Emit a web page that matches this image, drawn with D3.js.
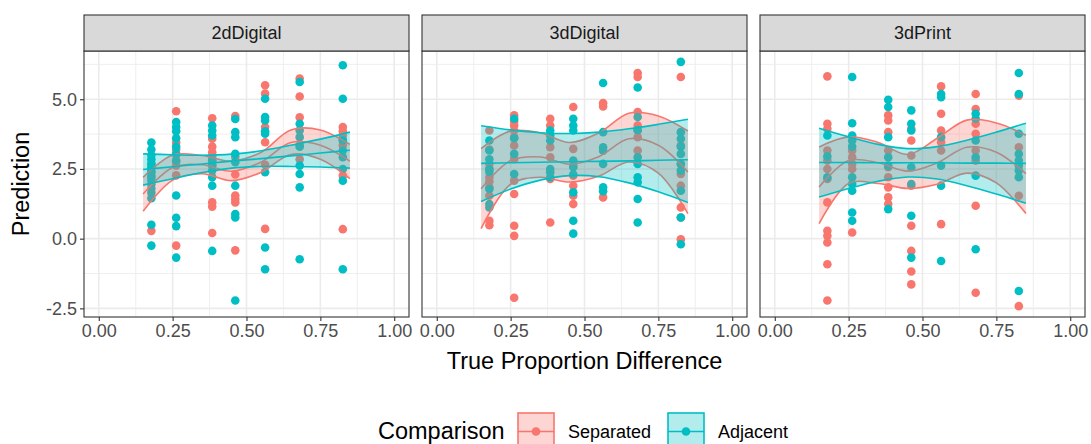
<!DOCTYPE html>
<html><head><meta charset="utf-8">
<script src="https://cdn.jsdelivr.net/npm/d3@7"></script>
<style>body{margin:0;background:#fff} text{font-family:"Liberation Sans",Arial,sans-serif}</style>
</head><body><svg id="chart" width="1091" height="444"></svg>
<script>
// ---------- data ----------
const panels = ["2dDigital", "3dDigital", "3dPrint"];
const groups = ["Separated", "Adjacent"];
const groupColors = ["#F8766D", "#00BFC4"];
const xLevels = [0.178, 0.262, 0.384, 0.462, 0.563, 0.68, 0.826];
const xTicks = [0, 0.25, 0.5, 0.75, 1];
const xTickLabels = ["0.00", "0.25", "0.50", "0.75", "1.00"];
const yTicks = [-2.5, 0, 2.5, 5];
const yTickLabels = ["-2.5", "0.0", "2.5", "5.0"];

// points: one list of predictions per x level
const sep2dDigital = [
  [2.65, 2.4, 2.2, 0.28],
  [4.57, 3.45, 3.2, 3.0, 2.75, 2.62, 2.27, -0.25],
  [4.32, 3.58, 3.3, 3.1, 2.95, 2.8, 2.65, 1.3, 1.15, 0.2],
  [4.4, 2.93, 2.3, 1.55, 1.42, 1.3, -0.42],
  [5.5, 5.2, 4.0, 3.46, 2.65, 0.35],
  [5.74, 5.1, 4.35, 3.35, 2.85],
  [4.0, 3.85, 3.7, 3.55, 3.35, 2.26, 0.34]
];
const adj2dDigital = [
  [3.45, 3.2, 3.0, 2.85, 2.7, 2.55, 2.4, 2.25, 2.1, 1.95, 1.8, 1.65, 1.45, 0.5, -0.25],
  [4.18, 4.0, 3.85, 3.6, 3.3, 3.05, 2.8, 1.55, 0.75, 0.45, -0.68],
  [4.06, 3.88, 3.7, 2.8, 2.62, 2.44, 2.2, 1.9, -0.44],
  [4.29, 3.82, 3.64, 3.04, 2.74, 1.9, 0.88, 0.76, -2.22],
  [5.02, 4.36, 4.24, 3.85, 3.76, 2.38, -0.32, -1.1],
  [5.62, 4.12, 3.88, 3.64, 3.3, 2.62, 2.32, 1.84, -0.74],
  [6.22, 5.02, 3.52, 3.16, 2.92, 2.5, 2.08, -1.1]
];
const sep3dDigital = [
  [3.88, 3.2, 2.68, 2.5, 2.2, 2.05, 1.84, 1.54, 0.64, 0.48],
  [4.42, 4.2, 4.06, 3.88, 3.64, 3.34, 2.86, 2.08, 1.6, 0.46, 0.1, -2.12],
  [4.3, 4.06, 3.28, 2.92, 2.14, 0.58],
  [4.72, 3.22, 2.62, 2.26, 1.9, 1.54, 1.24],
  [4.86, 4.74, 1.48],
  [5.94, 5.8, 4.54, 4.06, 3.88, 3.64, 3.16],
  [5.8, 3.34, 2.68, 2.32, 1.9, 1.12, 0.76, -0.02]
];
const adj3dDigital = [
  [3.52, 3.16, 2.85, 2.5, 2.4, 1.78, 1.24, 1.12],
  [4.3, 3.6, 3.04, 2.32],
  [3.88, 3.7, 3.52, 2.5, 2.38, 2.2],
  [4.3, 4.06, 3.88, 2.8, 2.56, 2.3, 1.66, 0.64, 0.18],
  [5.58, 3.82, 3.28, 3.15, 2.68, 1.84, 1.7],
  [5.42, 4.36, 3.9, 2.92, 2.68, 2.2, 2.02, 1.42, 0.58],
  [6.34, 3.82, 3.58, 3.3, 3.04, 2.68, 2.44, 1.72, 0.76, -0.2]
];
const sep3dPrint = [
  [5.82, 4.12, 3.94, 3.16, 2.8, 2.5, 2.14, 1.3, 0.28, 0.1, -0.14, -0.92, -2.22],
  [3.16, 2.92, 2.68, 2.5, 0.22],
  [4.42, 4.24, 3.82, 3.16, 2.56, 2.2, 1.84, 1.48, 1.24],
  [3.94, 3.52, 2.98, 1.9, 0.46, -0.44, -1.18, -1.64],
  [5.46, 4.48, 3.88, 3.46, 3.16, 0.52],
  [5.19, 4.65, 4.12, 3.76, 3.16, 2.8, 1.18, -1.94],
  [5.13, 3.28, 1.54, -2.42]
];
const adj3dPrint = [
  [3.7, 2.95, 2.2],
  [5.8, 4.14, 3.7, 3.52, 3.3, 2.2, 1.96, 1.72, 0.94, 0.64],
  [4.98, 4.72, 3.64, 2.92, 2.62, 1.06],
  [4.6, 4.12, 3.88, 2.56, 1.96, 0.82, -0.68],
  [5.19, 5.07, 3.64, 2.62, 1.9, -0.8],
  [4.48, 4.3, 3.52, 2.92, 2.26, -0.38],
  [5.94, 5.19, 3.76, 3.04, 2.8, 2.62, 2.44, 2.2, -1.88]
];

// smoothers at these x positions
const smoothX = [0.15, 0.25, 0.35, 0.45, 0.55, 0.65, 0.75, 0.85];
const sepFit2dDigital   = [1.6, 2.55, 2.65, 2.42, 2.75, 3.45, 3.35, 2.78];
const sepUpper2dDigital = [2.2, 3.0, 2.98, 2.78, 3.1, 3.9, 3.9, 3.38];
const sepLower2dDigital = [0.98, 2.1, 2.33, 2.08, 2.38, 3.02, 2.85, 2.15];
const adjFit2dDigital   = [2.48, 2.58, 2.68, 2.78, 2.87, 2.97, 3.07, 3.17];
const adjUpper2dDigital = [3.04, 3.01, 2.99, 3.03, 3.15, 3.35, 3.57, 3.82];
const adjLower2dDigital = [1.92, 2.15, 2.37, 2.53, 2.59, 2.59, 2.57, 2.53];

const sepFit3dDigital   = [1.79, 2.8, 2.93, 2.67, 2.95, 3.58, 3.35, 2.39];
const sepUpper3dDigital = [3.23, 3.86, 3.8, 3.45, 3.8, 4.5, 4.4, 3.86];
const sepLower3dDigital = [0.36, 1.95, 2.2, 2.03, 2.25, 2.75, 2.35, 0.9];
const adjFit3dDigital   = [2.7, 2.72, 2.74, 2.76, 2.77, 2.79, 2.81, 2.83];
const adjUpper3dDigital = [4.05, 3.9, 3.8, 3.77, 3.82, 3.94, 4.1, 4.28];
const adjLower3dDigital = [1.33, 1.78, 2.1, 2.26, 2.22, 2.0, 1.68, 1.3];

const sepFit3dPrint   = [1.85, 2.8, 2.72, 2.42, 2.72, 3.28, 3.1, 2.33];
const sepUpper3dPrint = [3.29, 3.65, 3.45, 3.02, 3.6, 4.25, 4.15, 3.71];
const sepLower3dPrint = [0.54, 1.98, 1.98, 1.8, 1.95, 2.35, 2.0, 0.9];
const adjFit3dPrint   = [2.73, 2.73, 2.72, 2.72, 2.72, 2.71, 2.71, 2.7];
const adjUpper3dPrint = [3.96, 3.65, 3.38, 3.23, 3.3, 3.53, 3.82, 4.14];
const adjLower3dPrint = [1.49, 1.8, 2.06, 2.21, 2.14, 1.9, 1.6, 1.27];

const pointData = [[sep2dDigital, adj2dDigital], [sep3dDigital, adj3dDigital], [sep3dPrint, adj3dPrint]];
const smoothData = [
  [[sepLower2dDigital, sepFit2dDigital, sepUpper2dDigital], [adjLower2dDigital, adjFit2dDigital, adjUpper2dDigital]],
  [[sepLower3dDigital, sepFit3dDigital, sepUpper3dDigital], [adjLower3dDigital, adjFit3dDigital, adjUpper3dDigital]],
  [[sepLower3dPrint, sepFit3dPrint, sepUpper3dPrint], [adjLower3dPrint, adjFit3dPrint, adjUpper3dPrint]]
];

// ---------- layout ----------
const svg = d3.select("#chart");
const panelLefts = [84, 422, 760];
const panelW = 325;
const pTop = 51, pBottom = 317, stripTop = 15;
const gridCol = "#EBEBEB", dark = "#333333", tickCol = "#4D4D4D";
const tickSize = 18, titleSize = 23.5;

const yScale = d3.scaleLinear().domain([-2.81, 6.73]).range([pBottom, pTop]);
const minorY = [-1.25, 1.25, 3.75, 6.25];
const minorX = [0.125, 0.375, 0.625, 0.875];

panels.forEach((name, pi) => {
  const left = panelLefts[pi];
  const x = d3.scaleLinear().domain([-0.05, 1.05]).range([left, left + panelW]);
  const y = yScale;
  const g = svg.append("g");
  const clipId = "clip" + pi;
  g.append("clipPath").attr("id", clipId).append("rect")
    .attr("x", left).attr("y", pTop).attr("width", panelW).attr("height", pBottom - pTop);
  // grid
  g.append("g").selectAll("line").data(minorY).join("line")
    .attr("x1", left).attr("x2", left + panelW).attr("y1", d => y(d)).attr("y2", d => y(d))
    .attr("stroke", gridCol).attr("stroke-width", 0.8);
  g.append("g").selectAll("line").data(minorX).join("line")
    .attr("y1", pTop).attr("y2", pBottom).attr("x1", d => x(d)).attr("x2", d => x(d))
    .attr("stroke", gridCol).attr("stroke-width", 0.8);
  g.append("g").selectAll("line").data(yTicks).join("line")
    .attr("x1", left).attr("x2", left + panelW).attr("y1", d => y(d)).attr("y2", d => y(d))
    .attr("stroke", gridCol).attr("stroke-width", 1.6);
  g.append("g").selectAll("line").data(xTicks).join("line")
    .attr("y1", pTop).attr("y2", pBottom).attr("x1", d => x(d)).attr("x2", d => x(d))
    .attr("stroke", gridCol).attr("stroke-width", 1.6);

  const inner = g.append("g").attr("clip-path", `url(#${clipId})`);
  // points
  groups.forEach((grp, gi) => {
    const pts = [];
    pointData[pi][gi].forEach((vals, li) => vals.forEach(v => pts.push([xLevels[li], v])));
    inner.append("g").selectAll("circle").data(pts).join("circle")
      .attr("cx", d => x(d[0])).attr("cy", d => y(d[1])).attr("r", 4.3)
      .attr("fill", groupColors[gi]);
  });
  // smoothers
  groups.forEach((grp, gi) => {
    const [lo, mid, hi] = smoothData[pi][gi];
    const rows = smoothX.map((sx, i) => ({x: sx, lo: lo[i], mid: mid[i], hi: hi[i]}));
    const curve = d3.curveCatmullRom.alpha(0.5);
    const area = d3.area().x(d => x(d.x)).y0(d => y(d.lo)).y1(d => y(d.hi)).curve(curve);
    inner.append("path").datum(rows).attr("d", area)
      .attr("fill", groupColors[gi]).attr("fill-opacity", 0.3);
    ["lo", "hi", "mid"].forEach(k => {
      const line = d3.line().x(d => x(d.x)).y(d => y(d[k])).curve(curve);
      inner.append("path").datum(rows).attr("d", line)
        .attr("fill", "none").attr("stroke", groupColors[gi]).attr("stroke-width", 1.6);
    });
  });
  // panel border
  g.append("rect").attr("x", left).attr("y", pTop).attr("width", panelW).attr("height", pBottom - pTop)
    .attr("fill", "none").attr("stroke", dark).attr("stroke-width", 1.1);
  // strip
  g.append("rect").attr("x", left).attr("y", stripTop).attr("width", panelW).attr("height", pTop - stripTop)
    .attr("fill", "#D9D9D9").attr("stroke", dark).attr("stroke-width", 1.1);
  g.append("text").attr("x", left + panelW / 2).attr("y", (stripTop + pTop) / 2)
    .attr("text-anchor", "middle").attr("dominant-baseline", "central")
    .attr("font-size", tickSize).attr("fill", "#1A1A1A").text(name);
  // x axis
  const xa = g.append("g").attr("transform", `translate(0,${pBottom})`)
    .call(d3.axisBottom(x).tickValues(xTicks).tickFormat((d, i) => xTickLabels[i]).tickSize(4).tickPadding(3));
  xa.select(".domain").remove();
  xa.selectAll("line").attr("stroke", dark).attr("stroke-width", 1.1);
  xa.selectAll("text").attr("font-size", tickSize).attr("fill", tickCol).attr("font-family", "Liberation Sans, Arial, sans-serif");
  if (pi === 0) {
    const ya = g.append("g").attr("transform", `translate(${left},0)`)
      .call(d3.axisLeft(y).tickValues(yTicks).tickFormat((d, i) => yTickLabels[i]).tickSize(4).tickPadding(3));
    ya.select(".domain").remove();
    ya.selectAll("line").attr("stroke", dark).attr("stroke-width", 1.1);
    ya.selectAll("text").attr("font-size", tickSize).attr("fill", tickCol).attr("font-family", "Liberation Sans, Arial, sans-serif");
  }
});

// axis titles
svg.append("text").attr("x", (84 + 1085) / 2).attr("y", 369).attr("text-anchor", "middle")
  .attr("font-size", titleSize).attr("fill", "#000").text("True Proportion Difference");
svg.append("text").attr("transform", `translate(29,${(pTop + pBottom) / 2}) rotate(-90)`)
  .attr("text-anchor", "middle").attr("font-size", titleSize).attr("fill", "#000").text("Prediction");

// legend
const leg = svg.append("g");
leg.append("text").attr("x", 378).attr("y", 439).attr("font-size", titleSize).attr("fill", "#000").text("Comparison");
const keyX = [518, 668], labX = [568, 718];
groups.forEach((grp, gi) => {
  const k = leg.append("g");
  k.append("rect").attr("x", keyX[gi]).attr("y", 413).attr("width", 36).attr("height", 37)
    .attr("fill", groupColors[gi]).attr("fill-opacity", 0.3)
    .attr("stroke", groupColors[gi]).attr("stroke-width", 1.6);
  k.append("line").attr("x1", keyX[gi]).attr("x2", keyX[gi] + 36).attr("y1", 431.5).attr("y2", 431.5)
    .attr("stroke", groupColors[gi]).attr("stroke-width", 1.6);
  k.append("circle").attr("cx", keyX[gi] + 18).attr("cy", 431.5).attr("r", 4.3).attr("fill", groupColors[gi]);
  leg.append("text").attr("x", labX[gi]).attr("y", 437.5).attr("font-size", tickSize).attr("fill", "#000").text(grp);
});
</script></body></html>
